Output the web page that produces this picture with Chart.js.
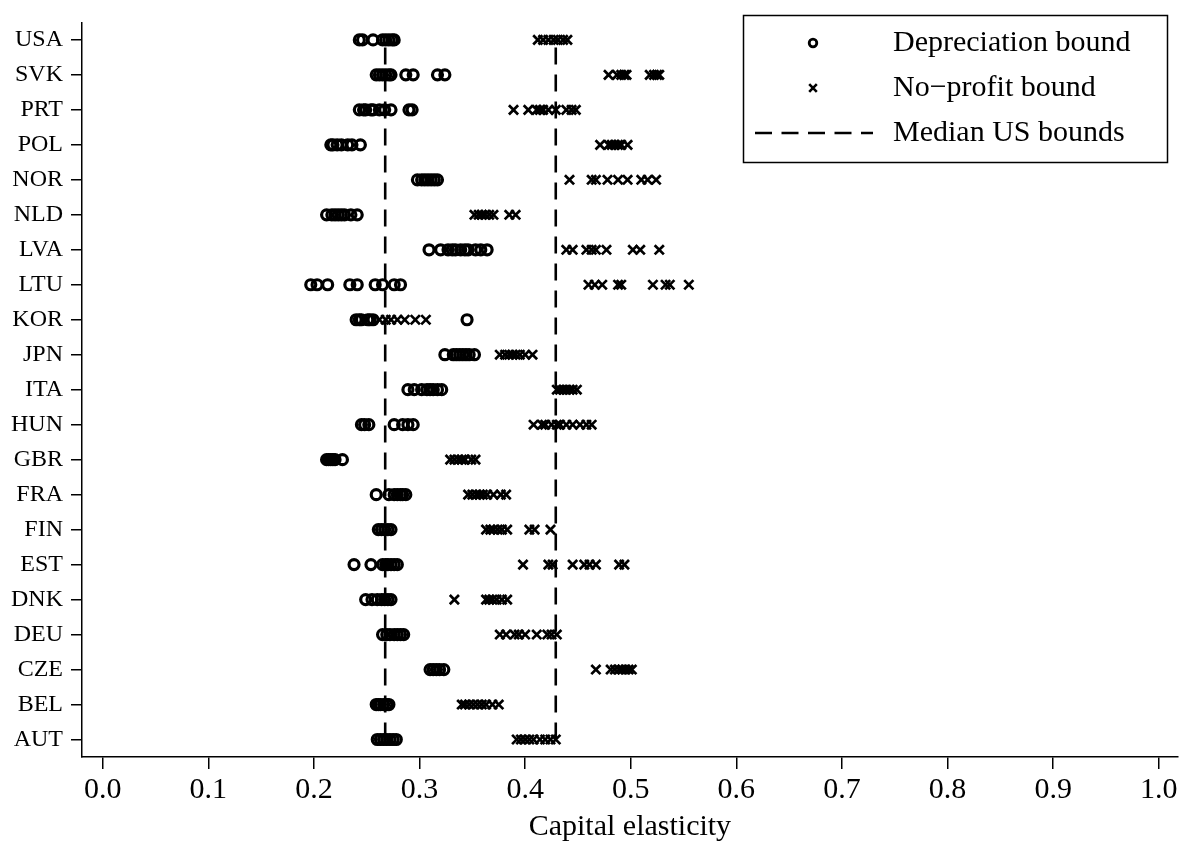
<!DOCTYPE html>
<html>
<head>
<meta charset="utf-8">
<script src="https://cdn.jsdelivr.net/npm/chart.js@4.4.1/dist/chart.umd.min.js"></script>
<style>
html,body{margin:0;padding:0;background:#ffffff;}
#wrap{width:1187px;height:844px;}
</style>
</head>
<body>
<div id="wrap"><canvas id="c" width="1187" height="844"></canvas></div>
<script>
// ---------------- DATA ----------------
const countries = ["USA","SVK","PRT","POL","NOR","NLD","LVA","LTU","KOR","JPN","ITA","HUN","GBR","FRA","FIN","EST","DNK","DEU","CZE","BEL","AUT"];

const depreciationBound = [
  [0.243,0.246,0.256,0.265,0.268,0.271,0.274,0.276],          // USA
  [0.259,0.262,0.265,0.268,0.271,0.273,0.287,0.294,0.317,0.324], // SVK
  [0.243,0.247,0.249,0.254,0.256,0.262,0.267,0.273,0.290,0.293], // PRT
  [0.216,0.218,0.222,0.226,0.232,0.236,0.244],                // POL
  [0.298,0.302,0.305,0.308,0.311,0.314,0.317],                // NOR
  [0.212,0.217,0.220,0.223,0.226,0.229,0.235,0.241],          // NLD
  [0.309,0.320,0.327,0.331,0.334,0.339,0.343,0.346,0.353,0.358,0.364], // LVA
  [0.197,0.203,0.213,0.234,0.241,0.258,0.265,0.276,0.282],    // LTU
  [0.240,0.243,0.245,0.251,0.253,0.256,0.345],                // KOR
  [0.324,0.332,0.335,0.338,0.341,0.344,0.347,0.352],          // JPN
  [0.289,0.295,0.302,0.307,0.310,0.313,0.317,0.321],          // ITA
  [0.245,0.248,0.252,0.276,0.284,0.289,0.294],                // HUN
  [0.212,0.214,0.216,0.218,0.220,0.227],                      // GBR
  [0.259,0.271,0.276,0.279,0.282,0.284,0.287],                // FRA
  [0.261,0.264,0.267,0.270,0.273],                            // FIN
  [0.238,0.254,0.265,0.268,0.270,0.273,0.276,0.279],          // EST
  [0.249,0.255,0.260,0.264,0.267,0.270,0.273],                // DNK
  [0.265,0.269,0.272,0.276,0.279,0.282,0.285],                // DEU
  [0.310,0.313,0.316,0.319,0.323],                            // CZE
  [0.259,0.261,0.263,0.266,0.269,0.271],                      // BEL
  [0.260,0.263,0.266,0.269,0.272,0.275,0.278]                 // AUT
];

const noProfitBound = [
  [0.412,0.417,0.422,0.427,0.431,0.436,0.440],                // USA
  [0.479,0.487,0.491,0.494,0.496,0.518,0.522,0.525,0.527],    // SVK
  [0.389,0.403,0.411,0.414,0.417,0.422,0.429,0.439,0.444,0.448], // PRT
  [0.471,0.479,0.482,0.485,0.488,0.491,0.497],                // POL
  [0.442,0.463,0.467,0.478,0.488,0.497,0.510,0.516,0.524],    // NOR
  [0.352,0.356,0.359,0.362,0.366,0.370,0.385,0.391],          // NLD
  [0.439,0.445,0.458,0.463,0.467,0.477,0.502,0.509,0.527],    // LVA
  [0.460,0.466,0.473,0.488,0.491,0.521,0.533,0.537,0.555],    // LTU
  [0.262,0.268,0.273,0.279,0.286,0.296,0.306],                // KOR
  [0.376,0.381,0.385,0.388,0.391,0.395,0.400,0.407],          // JPN
  [0.430,0.433,0.436,0.439,0.442,0.445,0.449],                // ITA
  [0.408,0.416,0.419,0.425,0.430,0.433,0.439,0.445,0.452,0.458,0.463], // HUN
  [0.329,0.333,0.337,0.340,0.343,0.349,0.353],                // GBR
  [0.346,0.350,0.354,0.357,0.360,0.364,0.370,0.377,0.382],    // FRA
  [0.363,0.367,0.370,0.374,0.378,0.383,0.404,0.409,0.424],    // FIN
  [0.398,0.422,0.426,0.445,0.456,0.461,0.467,0.489,0.494],    // EST
  [0.333,0.363,0.366,0.369,0.373,0.378,0.383],                // DNK
  [0.376,0.382,0.390,0.394,0.400,0.411,0.421,0.425,0.430],    // DEU
  [0.467,0.481,0.485,0.489,0.492,0.495,0.498,0.501],          // CZE
  [0.340,0.343,0.347,0.351,0.355,0.359,0.363,0.369,0.375],    // BEL
  [0.392,0.396,0.400,0.404,0.408,0.414,0.419,0.424,0.429]     // AUT
];

const medianUS = [0.2675, 0.429];
const xTickValues = [0.0,0.1,0.2,0.3,0.4,0.5,0.6,0.7,0.8,0.9,1.0];
const seriesLabels = ["Depreciation bound","No\u2212profit bound","Median US bounds"];
const xTitle = "Capital elasticity";

// ---------------- BUILD ----------------
function toPoints(lists){
  const pts = [];
  lists.forEach((vals, i) => vals.forEach(v => pts.push({x: v, y: countries[i]})));
  return pts;
}

const FONT = "'Liberation Serif', 'Times New Roman', serif";
Chart.defaults.font.family = FONT;
Chart.defaults.color = '#000';

const medianDatasets = medianUS.map(m => ({
  type: 'scatter',
  label: seriesLabels[2],
  data: [{x: m, y: countries[countries.length-1]}, {x: m, y: countries[0]}],
  showLine: true,
  borderColor: '#000',
  borderWidth: 2.6,
  borderDash: [17, 10],
  borderCapStyle: 'butt',
  pointRadius: 0,
  fill: false
}));

const boxedLegend = {
  id: 'boxedLegend',
  afterDraw(chart){
    const ctx = chart.ctx;
    ctx.save();
    ctx.strokeStyle = '#000';
    ctx.lineWidth = 1.5;
    ctx.strokeRect(743.5, 15.5, 424, 147);
    const rows = [43, 88, 133];
    const mx = 813;
    ctx.setLineDash([]);
    ctx.lineWidth = 2.8;
    ctx.beginPath(); ctx.arc(mx, rows[0], 3.8, 0, Math.PI*2); ctx.stroke();
    ctx.lineWidth = 2.6;
    ctx.beginPath();
    ctx.moveTo(mx-3.8, rows[1]-3.8); ctx.lineTo(mx+3.8, rows[1]+3.8);
    ctx.moveTo(mx-3.8, rows[1]+3.8); ctx.lineTo(mx+3.8, rows[1]-3.8);
    ctx.stroke();
    ctx.lineWidth = 2.6;
    ctx.setLineDash([17, 9.5]);
    ctx.beginPath(); ctx.moveTo(755, rows[2]); ctx.lineTo(873, rows[2]); ctx.stroke();
    ctx.setLineDash([]);
    ctx.fillStyle = '#000';
    ctx.font = "30px " + FONT;
    ctx.textBaseline = 'middle';
    ctx.textAlign = 'left';
    seriesLabels.forEach((t, i) => ctx.fillText(t, 893, rows[i]));
    ctx.restore();
  }
};

new Chart(document.getElementById('c'), {
  type: 'scatter',
  data: {
    datasets: [
      ...medianDatasets,
      {
        label: seriesLabels[1],
        data: toPoints(noProfitBound),
        pointStyle: 'crossRot',
        pointRadius: 6.5,
        borderWidth: 2.7,
        borderColor: '#000',
        backgroundColor: '#000'
      },
      {
        label: seriesLabels[0],
        data: toPoints(depreciationBound),
        pointStyle: 'circle',
        pointRadius: 5,
        borderWidth: 3.2,
        borderColor: '#000',
        backgroundColor: 'rgba(0,0,0,0)'
      }
    ]
  },
  options: {
    responsive: false,
    animation: false,
    devicePixelRatio: 1,
    events: [],
    layout: {padding: {left: 0, right: 9, top: 7, bottom: 0}},
    plugins: {legend: {display: false}, tooltip: {enabled: false}, title: {display: false}},
    scales: {
      x: {
        type: 'linear',
        position: 'bottom',
        min: -0.0196,
        max: 1.018,
        afterBuildTicks: (s) => { s.ticks = xTickValues.map(v => ({value: v})); },
        afterFit: (s) => { s.height = 87; },
        ticks: {
          autoSkip: false, maxRotation: 0, padding: 3,
          font: {size: 30, family: FONT}, color: '#000',
          callback: (v) => Number(v).toFixed(1)
        },
        grid: {display: true, drawOnChartArea: false, drawTicks: true, tickLength: 12, color: '#000', lineWidth: 1.5},
        border: {display: true, color: '#000', width: 1.5},
        title: {display: true, text: xTitle, font: {size: 30, family: FONT, lineHeight: 1.1}, color: '#000', padding: {top: 0, bottom: 0}}
      },
      y: {
        type: 'category',
        labels: countries,
        offset: true,
        afterFit: (s) => { s.width = 82; },
        ticks: {autoSkip: false, padding: 8, font: {size: 24, family: FONT}, color: '#000'},
        grid: {display: true, offset: false, drawOnChartArea: false, drawTicks: true, tickLength: 11, color: '#000', lineWidth: 1.5},
        border: {display: true, color: '#000', width: 1.5}
      }
    }
  },
  plugins: [boxedLegend]
});
</script>
</body>
</html>
